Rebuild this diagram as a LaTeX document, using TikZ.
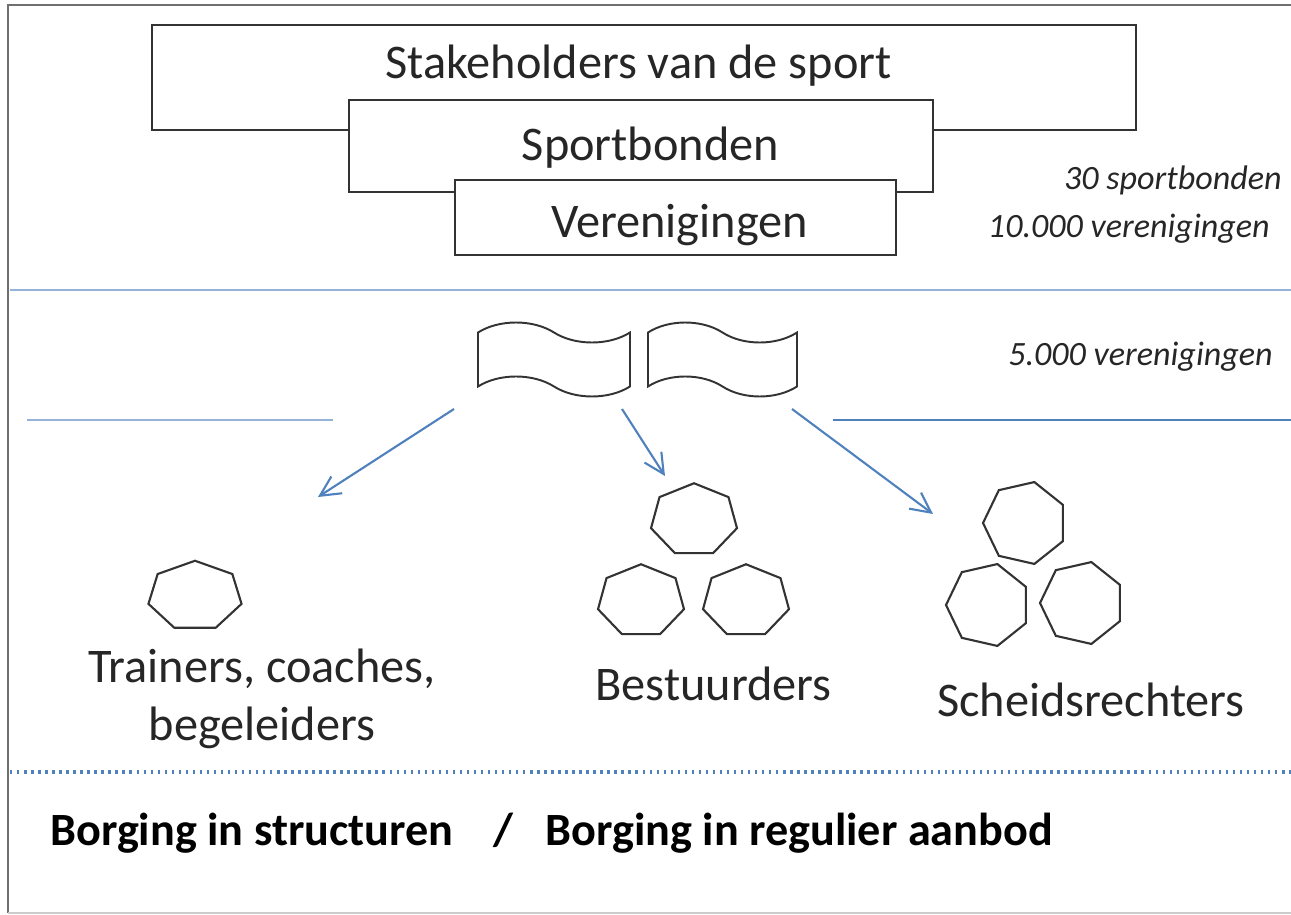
\documentclass[tikz,border=0pt]{standalone}
\usepackage{fontspec}
\setmainfont{Carlito}
\usepackage{tikz}
\usetikzlibrary{shapes}
\usetikzlibrary{shapes.geometric}
\usetikzlibrary{shapes.symbols}
\usetikzlibrary{arrows.meta}
\usetikzlibrary{positioning}
\definecolor{lineblue}{RGB}{79,129,189}
\definecolor{paleblue}{RGB}{149,179,215}
\definecolor{txtgray}{RGB}{38,38,38}
\definecolor{framegray}{RGB}{112,112,112}

\begin{document}
\begin{tikzpicture}[x=0.02cm,y=-0.02cm]
\tikzstyle{level}=[rectangle,draw=black!80,fill=white,line width=1.3pt,inner sep=0pt]
\tikzstyle{big}=[font=\fontsize{27.5}{33}\selectfont,text=txtgray,inner sep=0pt]
\tikzstyle{count}=[font=\fontsize{19.4}{23}\selectfont\itshape,text=txtgray,
inner sep=0pt,anchor=base east]
\tikzstyle{flag}=[tape,draw=black!80,line width=1.1pt,inner sep=0pt,
tape bend top=out and in,tape bend bottom=out and in,tape bend height=0.4cm]
\tikzstyle{person}=[regular polygon,regular polygon sides=7,draw=black!80,
line width=1.2pt,inner sep=0pt]
\tikzstyle{link}=[draw=lineblue,line width=1.2pt,
-{Straight Barb[length=4mm,width=4mm]}]
\useasboundingbox (0,0) rectangle (1291,915);
% frame
\draw[framegray,line width=1.6pt] (8,913) -- (8,5) -- (1291,5);
\draw[black!20,line width=1.1pt] (8,913) -- (1291,913);
% the three levels
\node[level,minimum width=19.68cm,minimum height=2.1cm] (stake) at (644,77.5) {};
\node[big,anchor=base] (stakeT) at (638.5,79) {Stakeholders van de sport};
\node[level,minimum width=11.68cm,minimum height=1.84cm] (bond) at (641,146) {};
\node[big,anchor=base] (bondT) at (650.5,161) {Sportbonden};
\node[level,minimum width=8.82cm,minimum height=1.5cm] (ver) at (675.5,217.5) {};
\node[big,anchor=base] (verT) at (679.5,238) {Verenigingen};
\node[count] (nbond) at (1282,190) {30 sportbonden};
\node[count] (nver) at (1270,238) {10.000 verenigingen};
% dividers
\draw[paleblue,line width=1.3pt] (10,290) -- (1291,290);
\draw[paleblue,line width=1.7pt] (27,420) -- (333,420);
\draw[lineblue,line width=1.7pt] (833,420) -- (1291,420);
\draw[lineblue,line width=2.3pt,dash pattern=on 1.4pt off 2.6pt] (10,772) -- (1291,772);
% flags
\node[flag,minimum width=3.04cm,minimum height=1.48cm] (flagA) at (554,359.5) {};
\node[flag,minimum width=2.98cm,minimum height=1.48cm] (flagB) at (722.5,359.5) {};
\node[count] (nver5) at (1273,365) {5.000 verenigingen};
% arrows
\coordinate (fromA) at (454,409);
\coordinate (toA) at (318,497);
\coordinate (fromB) at (622,409);
\coordinate (toB) at (665,476);
\coordinate (fromC) at (792,409);
\coordinate (toC) at (933,514);
\draw[link] (fromA) -- (toA);
\draw[link] (fromB) -- (toB);
\draw[link] (fromC) -- (toC);
% groups
\node[person,minimum size=1.41cm,xscale=1.355] (tr) at (195,596) {};
\node[big,align=center] (trainT) at (262,699) {Trainers, coaches,\\begeleiders};
\node[person,minimum size=1.47cm,xscale=1.2] (best1) at (694,520) {};
\node[person,minimum size=1.47cm,xscale=1.2] (best2) at (641,601) {};
\node[person,minimum size=1.47cm,xscale=1.2] (best3) at (746,601) {};
\node[big,anchor=base] (bestT) at (713.5,700) {Bestuurders};
\node[person,minimum size=1.68cm,rotate=90] (sch1) at (1025,523) {};
\node[person,minimum size=1.68cm,rotate=90] (sch2) at (988,605) {};
\node[person,minimum size=1.68cm,rotate=90] (sch3) at (1082,603) {};
\node[big,anchor=base] (schT) at (1091,716) {Scheidsrechters};
% bottom line
\node[font=\fontsize{26.3}{30}\selectfont\bfseries,inner sep=0pt,anchor=base west]
(borg) at (50,845) {Borging in structuren\hspace{0.8cm}/\hspace{0.65cm}Borging in regulier aanbod};
\end{tikzpicture}
\end{document}
